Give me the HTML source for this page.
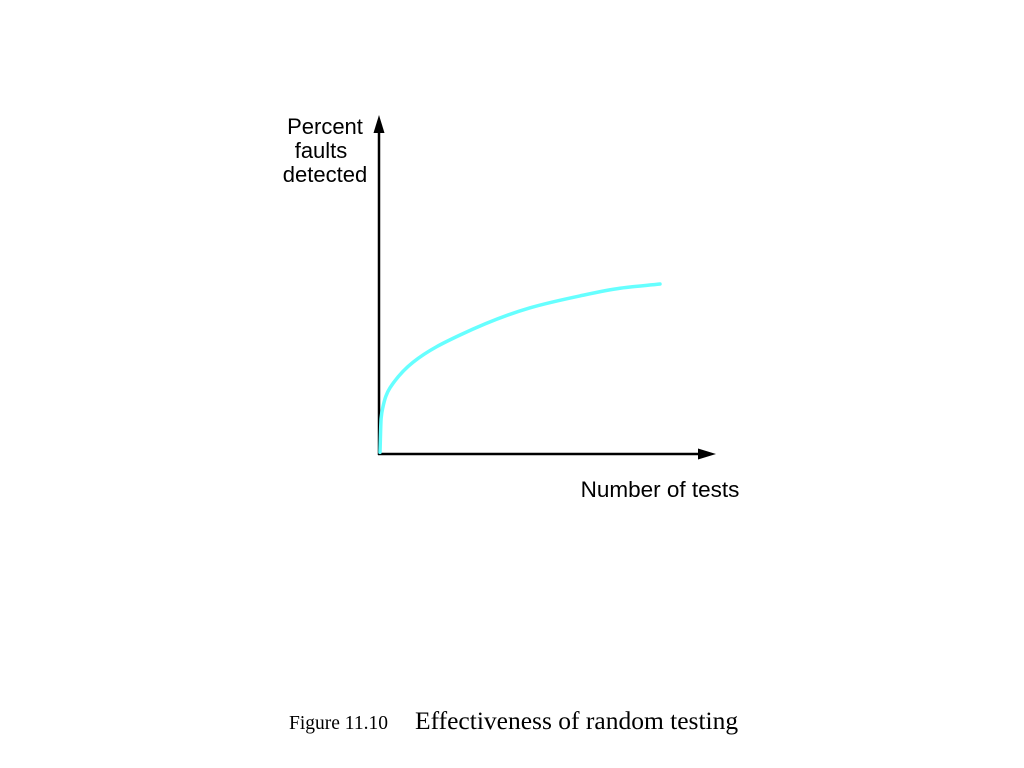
<!DOCTYPE html>
<html><head><meta charset="utf-8"><style>
html,body{margin:0;padding:0;background:#fff;width:1024px;height:768px;overflow:hidden}
svg{display:block}
</style></head><body>
<svg id="chart" width="1024" height="768" viewBox="0 0 1024 768" xmlns="http://www.w3.org/2000/svg">
  <line x1="379" y1="455" x2="379" y2="128" stroke="#000" stroke-width="2.5"/>
  <polygon points="379,115 373.5,133 384.5,133" fill="#000"/>
  <line x1="378" y1="454" x2="702" y2="454" stroke="#000" stroke-width="2.5"/>
  <polygon points="716,454 698,448.5 698,459.5" fill="#000"/>
  <g font-family="'Liberation Sans', sans-serif" font-size="22" text-anchor="middle" fill="#000">
    <text x="325" y="134">Percent</text>
    <text x="321" y="158">faults</text>
    <text x="325" y="182">detected</text>
  </g>
  <text x="660" y="497" font-family="'Liberation Sans', sans-serif" font-size="22.5" text-anchor="middle" fill="#000">Number of tests</text>
  <path id="curve" fill="none" stroke="#66ffff" stroke-width="3.5" stroke-linecap="round"/>
  <text x="289" y="729" font-family="'Liberation Serif', serif" font-size="19.5" fill="#000">Figure 11.10</text>
  <text x="415" y="729" font-family="'Liberation Serif', serif" font-size="25.5" fill="#000">Effectiveness of random testing</text>
</svg>
<script>
const testCounts = [0, 0.04, 0.11, 0.21, 0.36, 1.18, 2.86, 5.36, 7.14, 8.57, 10];
const percentDetected = [1, 21, 28, 34, 39, 54, 70, 86, 93, 97.5, 100];
function xScale(v){ return 380 + v * 28; }
function yScale(v){ return 454 - v * 1.7; }
const xs = testCounts.map(xScale), ys = percentDetected.map(yScale);
const n = xs.length, dl = [], m = [];
for (let i = 0; i < n - 1; i++) dl.push((ys[i+1]-ys[i])/(xs[i+1]-xs[i]));
m.push(dl[0]);
for (let i = 1; i < n - 1; i++) {
  if (dl[i-1]*dl[i] <= 0) m.push(0);
  else { const h0 = xs[i]-xs[i-1], h1 = xs[i+1]-xs[i];
    m.push(3*(h0+h1)/((2*h1+h0)/dl[i-1] + (h1+2*h0)/dl[i])); }
}
m.push(dl[n-2]);
let d = 'M' + xs[0] + ',' + ys[0];
for (let i = 0; i < n - 1; i++) {
  const h = (xs[i+1]-xs[i])/3;
  d += ' C' + (xs[i]+h) + ',' + (ys[i]+m[i]*h) + ' ' + (xs[i+1]-h) + ',' + (ys[i+1]-m[i+1]*h) + ' ' + xs[i+1] + ',' + ys[i+1];
}
document.getElementById('curve').setAttribute('d', d);
</script>
</body></html>
